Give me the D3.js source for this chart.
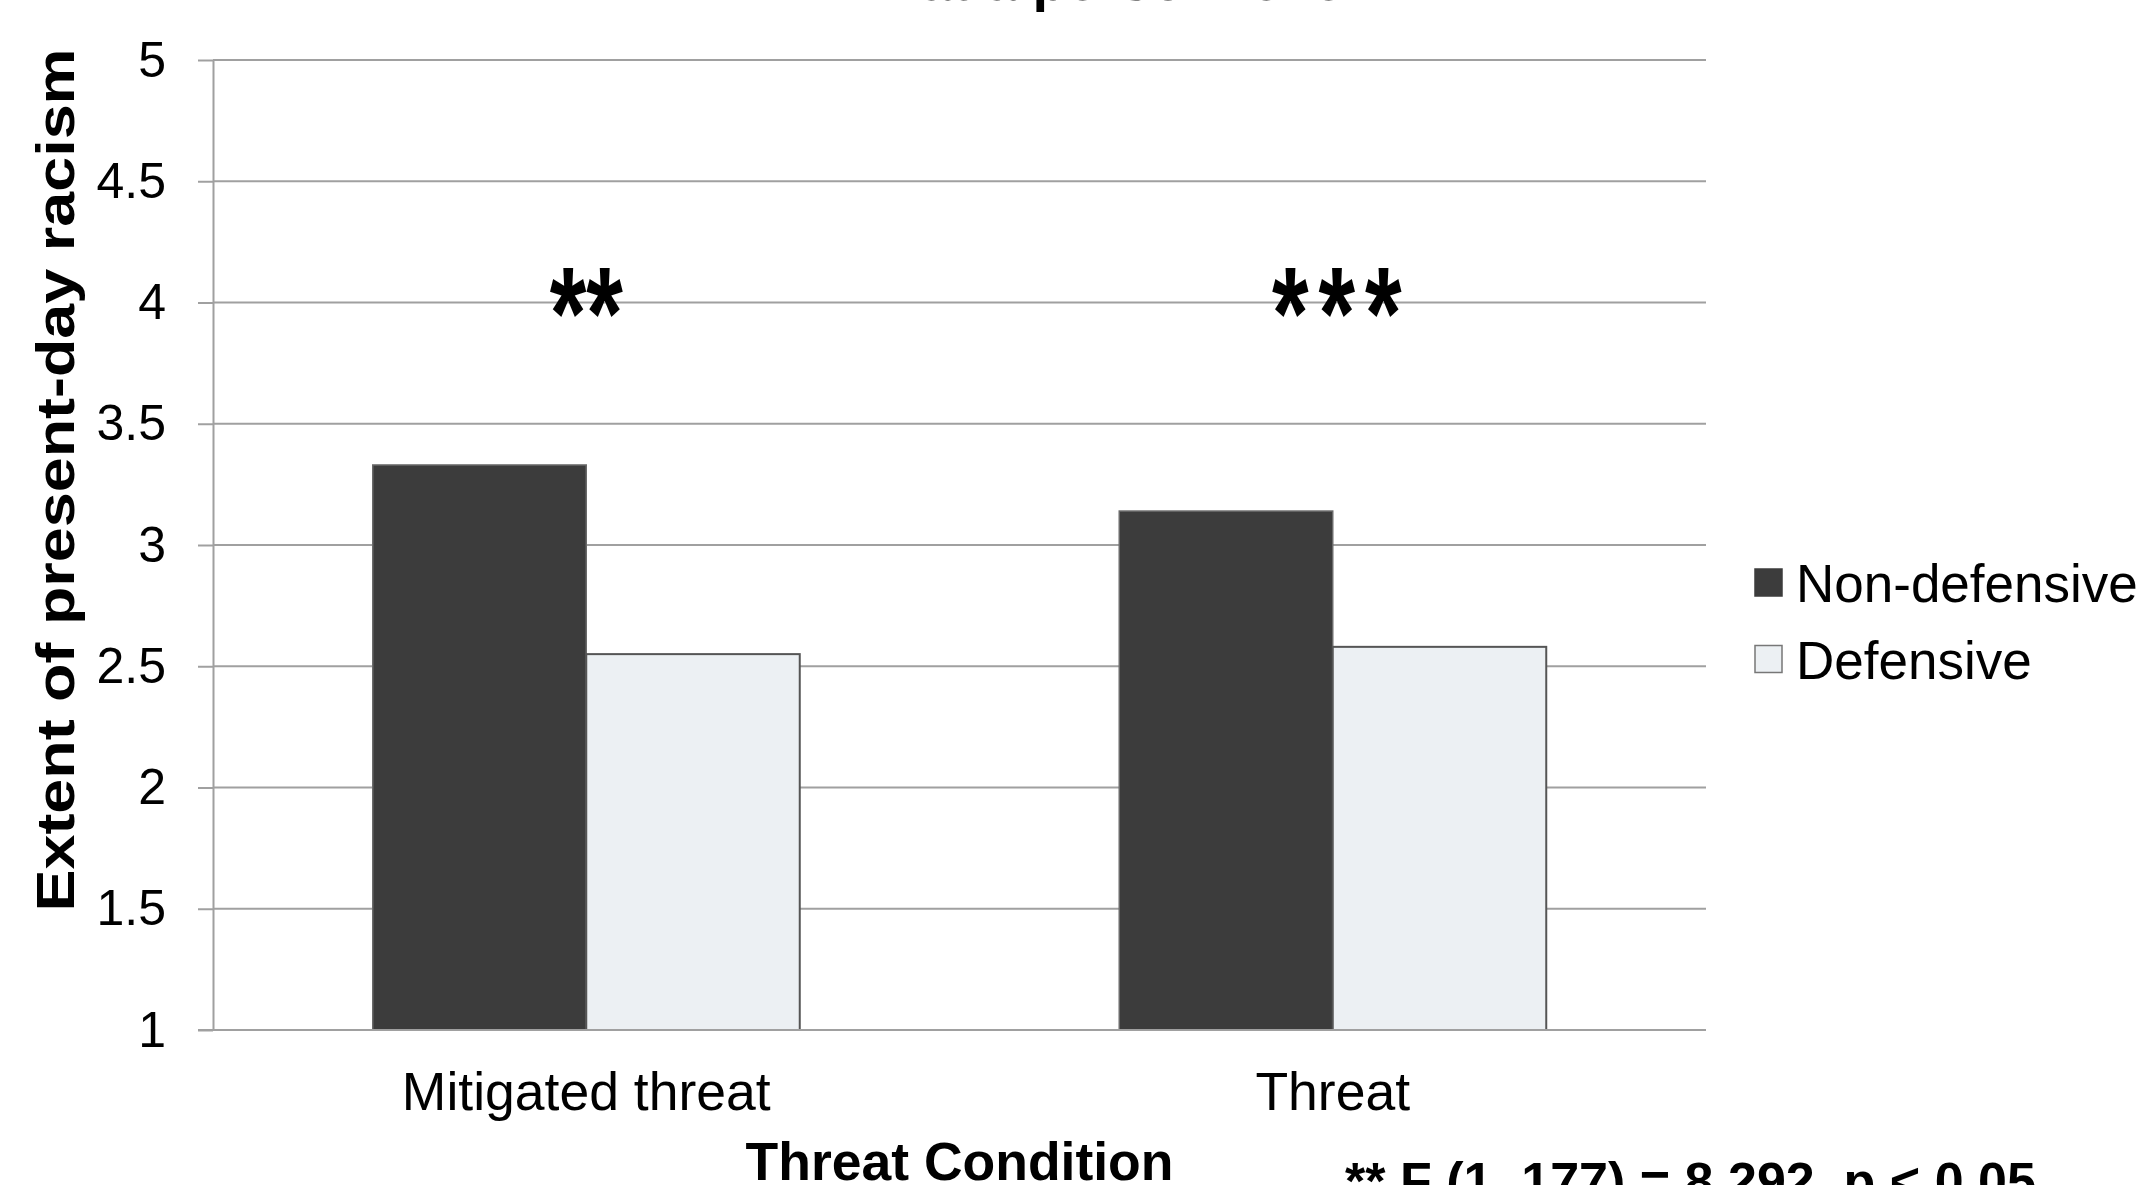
<!DOCTYPE html>
<html>
<head>
<meta charset="utf-8">
<script src="https://cdn.jsdelivr.net/npm/d3@7"></script>
<style>
  html, body { margin: 0; padding: 0; background: #fff; }
  svg { display: block; }
  text { font-family: "Liberation Sans", Arial, sans-serif; fill: #000; }
</style>
</head>
<body>
<script>
// ---- data ----
const categories = ["Mitigated threat", "Threat"];
const seriesNames = ["Non-defensive", "Defensive"];
const nonDefensive = [3.33, 3.14];
const defensive = [2.55, 2.58];
const significance = ["**", "***"];
const yTicks = [1, 1.5, 2, 2.5, 3, 3.5, 4, 4.5, 5];
const titleText = "at a person level";
const xTitle = "Threat Condition";
const yTitle = "Extent of present-day racism";
const footnote = "** F (1, 177) = 8.292, p < 0.05";

const W = 2149, H = 1185;
const m = { left: 213, right: 1706, top: 60, bottom: 1030 };
const colors = { "Non-defensive": "#3c3c3c", "Defensive": "#ecf0f3" };
const strokes = { "Non-defensive": "#6a6a6a", "Defensive": "#555555" };

const svg = d3.select("body").append("svg").attr("width", W).attr("height", H);

const y = d3.scaleLinear().domain([1, 5]).range([m.bottom, m.top]);
const x0 = d3.scaleBand().domain(categories).range([m.left, m.right])
  .paddingInner(0.428).paddingOuter(0.214);
const x1 = d3.scaleBand().domain(seriesNames).range([0, x0.bandwidth()]);

// gridlines
svg.append("g").selectAll("line").data(yTicks).join("line")
  .attr("x1", m.left).attr("x2", m.right)
  .attr("y1", d => y(d)).attr("y2", d => y(d))
  .attr("stroke", "#a0a0a0").attr("stroke-width", 2);

// y axis
const yAxis = svg.append("g").attr("transform", `translate(${m.left},0)`)
  .call(d3.axisLeft(y).tickValues(yTicks).tickFormat(d3.format("")).tickSize(15).tickSizeOuter(0).tickPadding(32));
yAxis.select(".domain").attr("stroke", "#a0a0a0").attr("stroke-width", 2);
yAxis.selectAll(".tick line").attr("stroke", "#a0a0a0").attr("stroke-width", 2);
yAxis.selectAll(".tick text")
  .style("font-family", '"Liberation Sans", Arial, sans-serif')
  .style("font-size", "50px").attr("fill", "#000");

// bars
const rows = categories.map((c, i) => ({ cat: c, vals: [
  { s: "Non-defensive", v: nonDefensive[i] },
  { s: "Defensive", v: defensive[i] } ] }));
const g = svg.append("g").selectAll("g").data(rows).join("g")
  .attr("transform", d => `translate(${x0(d.cat)},0)`);
g.selectAll("rect").data(d => d.vals).join("rect")
  .attr("x", d => x1(d.s)).attr("width", x1.bandwidth())
  .attr("y", d => y(d.v)).attr("height", d => y(1) - y(d.v))
  .attr("fill", d => colors[d.s]).attr("stroke", d => strokes[d.s])
  .attr("stroke-width", d => d.s === "Defensive" ? 2 : 1.5);

// bottom axis line redraw over bars
svg.append("line").attr("x1", m.left - 15).attr("x2", m.right)
  .attr("y1", y(1)).attr("y2", y(1)).attr("stroke", "#a0a0a0").attr("stroke-width", 2);

// significance markers
svg.append("g").selectAll("text").data(categories).join("text")
  .attr("text-anchor", "middle")
  .attr("transform", (d, i) => `translate(${x0(d) + x0.bandwidth() / 2 + (i === 1 ? 9 : 0)},${y(4) + 56}) scale(1,1.4)`)
  .style("font-size", "94px").style("font-weight", "bold")
  .style("letter-spacing", (d, i) => i === 1 ? "10px" : "0px")
  .text((d, i) => significance[i]);

// category labels
svg.append("g").selectAll("text").data(categories).join("text")
  .attr("x", d => x0(d) + x0.bandwidth() / 2).attr("y", 1110)
  .attr("text-anchor", "middle").style("font-size", "53.5px")
  .text(d => d);

// axis titles
svg.append("text").attr("x", (m.left + m.right) / 2).attr("y", 1180)
  .attr("text-anchor", "middle").style("font-size", "53.5px").style("font-weight", "bold")
  .text(xTitle);
svg.append("text").attr("transform", "translate(74,480) rotate(-90)")
  .attr("text-anchor", "middle").style("font-size", "54px").style("font-weight", "bold")
  .attr("textLength", 863).attr("lengthAdjust", "spacingAndGlyphs")
  .text(yTitle);

// title (cut off at top)
svg.append("text").attr("x", 1140).attr("y", 0)
  .attr("text-anchor", "middle").style("font-size", "56px").style("font-weight", "bold")
  .text(titleText);

// footnote (cut off at bottom)
svg.append("text").attr("x", 1345).attr("y", 1199)
  .style("font-size", "52px").style("font-weight", "bold")
  .text(footnote);

// legend
const leg = svg.append("g").selectAll("g").data(seriesNames).join("g")
  .attr("transform", (d, i) => `translate(1755,${569 + i * 76.5})`);
leg.append("rect").attr("width", 27).attr("height", 27)
  .attr("fill", d => colors[d]).attr("stroke", d => d === "Defensive" ? "#777" : "#3c3c3c")
  .attr("stroke-width", 1.5);
leg.append("text").attr("x", 41).attr("y", 33)
  .style("font-size", "53px").text(d => d);
</script>
</body>
</html>
